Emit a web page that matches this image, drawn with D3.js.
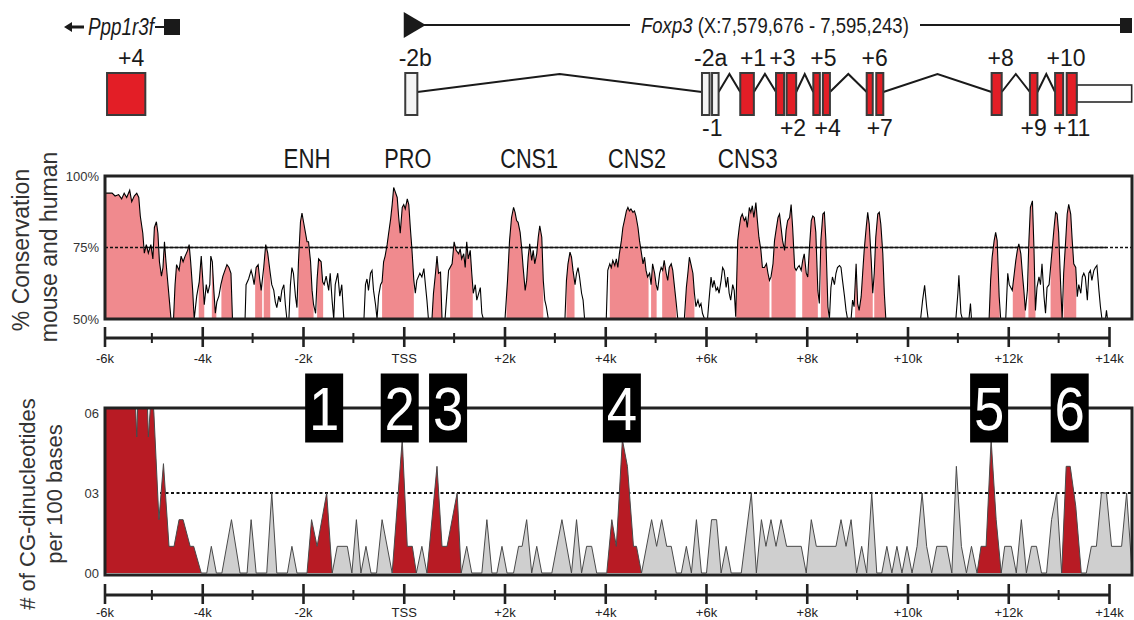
<!DOCTYPE html>
<html>
<head>
<meta charset="utf-8">
<script src="https://cdn.jsdelivr.net/npm/d3@7"></script>
<style>
body { margin: 0; background: #fff; }
svg { display: block; }
text { font-family: "Liberation Sans", Arial, sans-serif; fill: #1a1a1a; }
</style>
</head>
<body>
<svg id="chart" width="1134" height="620"></svg>
<script>
// conservation mouse/human, % identity by position (kb from TSS)
var consPos = [-5.97,-5.92,-5.79,-5.73,-5.66,-5.60,-5.55,-5.50,-5.44,-5.40,-5.35,-5.30,-5.26,-5.23,-5.18,-5.15,-5.11,-5.07,-5.02,-4.98,-4.95,-4.91,-4.88,-4.85,-4.81,-4.78,-4.75,-4.72,-4.68,-4.65,-4.62,-4.57,-4.54,-4.51,-4.46,-4.42,-4.38,-4.34,-4.29,-4.26,-4.23,-4.19,-4.16,-4.11,-4.06,-4.02,-3.99,-3.96,-3.92,-3.89,-3.85,-3.83,-3.80,-3.77,-3.74,-3.71,-3.67,-3.63,-3.59,-3.55,-3.51,-3.47,-3.43,-3.40,-3.15,-3.13,-3.08,-3.03,-3.00,-2.97,-2.93,-2.89,-2.86,-2.83,-2.78,-2.74,-2.70,-2.65,-2.62,-2.58,-2.55,-2.52,-2.48,-2.45,-2.42,-2.38,-2.35,-2.32,-2.28,-2.25,-2.22,-2.19,-2.15,-2.12,-2.09,-2.05,-2.02,-1.99,-1.95,-1.92,-1.89,-1.85,-1.82,-1.79,-1.75,-1.72,-1.69,-1.64,-1.61,-1.58,-1.54,-1.49,-1.46,-1.42,-1.39,-1.36,-1.31,-1.27,-1.23,-1.19,-0.79,-0.76,-0.73,-0.70,-0.66,-0.63,-0.60,-0.56,-0.53,-0.50,-0.46,-0.43,-0.40,-0.37,-0.33,-0.30,-0.26,-0.23,
  -0.20,-0.13,-0.10,-0.07,-0.03,0.00,0.03,0.07,0.10,0.13,0.16,0.20,0.23,0.26,0.32,0.36,0.40,0.43,0.46,0.49,0.56,0.59,0.63,0.66,0.69,0.73,0.76,0.82,0.89,0.96,1.00,1.04,1.09,1.12,1.15,1.19,1.22,1.25,1.28,1.32,1.35,1.38,1.42,1.45,1.52,1.55,1.58,2.01,2.06,2.10,2.14,2.18,2.21,2.24,2.27,2.31,2.34,2.37,2.41,2.44,2.47,2.50,2.54,2.57,2.60,2.64,2.67,2.70,2.74,2.77,2.80,2.83,2.87,3.20,3.23,3.26,3.30,3.33,3.36,3.40,3.43,3.46,3.49,3.53,3.56,3.59,4.02,4.05,4.09,4.12,4.15,4.19,4.22,4.25,4.28,4.32,4.35,4.38,4.42,4.45,4.48,4.51,4.55,4.58,4.61,4.65,4.68,4.71,4.75,4.78,4.81,4.84,4.88,4.91,4.94,4.98,5.01,5.04,5.08,5.11,5.14,5.17,5.21,5.24,5.27,5.31,5.34,5.37,5.41,5.44,5.57,5.61,5.64,5.67,5.70,5.74,5.77,5.80,5.84,5.87,5.90,5.93,5.97,6.03,6.06,6.10,6.13,6.16,6.20,6.23,6.26,6.30,6.33,6.36,6.40,6.43,6.46,6.49,6.53,6.56,6.59,6.63,6.66,6.69,6.72,6.76,6.79,6.82,6.86,6.89,6.92,6.95,6.99,7.02,7.05,7.09,7.12,
  7.16,7.20,7.23,7.26,7.29,7.33,7.36,7.39,7.43,7.46,7.49,7.52,7.56,7.59,7.62,7.66,7.69,7.72,7.76,7.79,7.82,7.85,7.89,7.92,7.95,7.99,8.02,8.05,8.09,8.12,8.15,8.18,8.22,8.25,8.28,8.32,8.35,8.38,8.42,8.45,8.48,8.51,8.55,8.58,8.61,8.65,8.68,8.71,8.75,8.78,8.81,8.88,8.91,8.94,8.98,9.01,9.04,9.08,9.11,9.14,9.18,9.21,9.24,9.28,9.31,9.34,9.37,9.41,9.44,9.47,9.51,9.54,9.57,10.26,10.30,10.34,10.38,10.41,10.96,11.00,11.02,11.06,11.09,11.22,11.25,11.27,11.62,11.65,11.68,11.72,11.75,11.78,11.82,11.85,11.95,11.99,12.02,12.05,12.08,12.12,12.15,12.18,12.21,12.25,12.28,12.31,12.34,12.38,12.41,12.44,12.48,12.51,12.54,12.57,12.61,12.64,12.67,12.71,12.74,12.77,12.81,12.84,12.87,12.91,12.94,12.97,13.00,13.04,13.07,13.10,13.14,13.17,13.20,13.24,13.27,13.30,13.34,13.37,13.40,13.44,13.47,13.50,13.53,13.57,13.60,13.63,13.66,13.70,13.73,13.76,13.80,13.83,13.86,13.93,13.95,13.97];
var consPct = [50,94,94,93,93.5,92,94,92.5,95,91,93,94,92.5,86,80,73,76,73,76,71,82,84,80,70,65,68,77,70,62,56,50,50,62,69,67,72,70,72,74,76,70,60,50,58,63,72,64,55,62,59,62,72,70,60,52,56,58,62,65,67,69,68,66,50,50,62,64,67,65,62,68,69,64,60,68,76,73,66,62,60,56,54,58,56,60,62,55,50,50,62,68,66,58,54,70,84,87,84,80,77,77,70,60,55,52,64,71,70,63,62,65,60,66,56,50,62,66,58,62,50,50,62,64,60,66,67,60,55,50,58,62,63,70,72,76,80,85,90,
  96,92.5,85.5,80,89,90,88.5,92,90,82,75,63.5,59,63.5,66,64.7,67.6,62,56.6,50,50,59,66,72,66,66.4,50,50,67,69.3,77,74,72.8,74.5,71,72.8,68,77,71,74,66,59,62,56.6,61,52,50,50,63.5,77.4,85.5,89,87.3,84.4,83.8,80.3,75,68,60,63.5,71.6,76.3,70.5,74,69.3,72.8,78.6,82.6,78.6,63.5,56.6,54.3,50,50,63.5,69.3,73.4,71.6,67,62,66,68,64.7,59,56.6,50,50,67,69.3,68,70.5,68.7,71,68,72.8,77.4,82,84.4,87.8,89,87.8,88.5,87.3,87.8,86,82,77.4,74,69.3,71.6,67,64.7,66,62,69.3,66,62,60,66,68,67,70.5,66,63.5,68,69.3,67,62,55.4,50,50,61,66,71.6,69.3,66,59,54.3,56.6,54.3,55.4,52,50,50,56.6,64.7,61,63.5,60,61,59,63.5,68,67,61,64.7,59,56.6,62,60,50.8,77.4,82,85.5,86.7,84.4,85.5,82,89,87.3,89.6,85.5,90.7,84.4,78.6,74,68,
  68,69.3,66,63.5,64.7,69.3,77.4,81,85.5,86.7,82,77.4,74,81,84.4,85.5,90,82,68,67,68,68.7,67,70.5,72.8,66,64.7,74,84.4,86,85.5,80.3,60,55.4,77.4,86.7,87.3,77.4,54.3,50,61,64.7,62,66,68,68.7,68,63.5,57.8,53,50,50,56.6,54.3,69.3,55.4,53,57.8,66,74,82,87.3,83.2,70.5,59,66,78.6,86.7,87.3,83.2,72.8,59,50,50,56.6,61.8,54.3,50,50,59,65.3,52,50,50,55.4,50,50,63.5,71.6,77.4,80.3,77.4,57.8,50,50,66,62,61,60,66,70.5,74,76.3,72.8,66,60,53,60,77.4,89,91.3,75,53,61,64.7,62,69.3,57.8,52,61,62,68,74,82,87.3,86.7,80.3,62,50,66,77.4,86.7,90.1,86.7,77.4,69.3,68,57.8,62,59,64.7,66,64.7,56.6,66,67,63.5,67,68,68.7,60,54.3,50,50,53,50];
// conserved (shaded) stretches, kb
var pinkRanges = [[-5.97,-4.62],[-4.58,-4.17],[-4.07,-3.96],[-3.81,-3.72],[-3.62,-3.40],[-2.95,-2.81],[-2.78,-2.65],[-2.09,-1.79],[-1.72,-1.60],[-0.43,0.20],[0.56,0.76],[0.92,1.37],[2.04,2.77],[3.23,3.39],[4.09,4.86],[4.91,5.02],[5.13,5.41],[5.59,5.77],[6.60,7.26],[7.30,7.78],[7.91,8.22],[8.28,8.42],[8.96,9.31],[9.34,9.57],[11.62,11.83],[12.09,12.34],[12.40,12.54],[12.84,13.07],[13.10,13.35]];

// CG dinucleotides per 100 bases
var cgPos = [-6.00,-5.34,-5.30,-5.27,-5.10,-5.07,-5.00,-4.96,-4.86,-4.77,-4.66,-4.56,-4.46,-4.38,-4.24,-4.17,-4.02,-3.91,-3.82,-3.72,-3.61,-3.42,-3.25,-3.11,-3.03,-2.93,-2.72,-2.62,-2.52,-2.31,-2.22,-2.12,-1.92,-1.83,-1.72,-1.53,-1.42,-1.32,-1.12,-1.03,-0.94,-0.85,-0.75,-0.65,-0.54,-0.43,-0.23,-0.03,0.07,0.17,0.25,0.36,0.46,0.66,0.76,0.86,1.06,1.14,1.25,1.35,1.55,1.65,1.75,1.85,1.95,2.05,2.18,2.28,2.35,2.44,2.54,2.64,2.74,2.94,3.14,3.33,3.43,3.53,3.63,3.73,3.83,4.03,4.13,4.22,4.34,4.44,4.56,4.62,4.72,4.92,5.02,5.12,5.22,5.31,5.41,5.51,5.61,5.71,5.81,5.91,6.01,6.11,6.21,6.30,6.40,6.50,6.70,6.90,7.00,7.10,7.19,7.29,7.39,7.49,7.60,7.89,7.99,8.09,8.19,8.58,8.68,8.78,8.88,8.99,9.09,9.19,9.29,9.39,9.49,9.59,9.69,9.79,9.89,9.99,10.09,10.19,10.29,10.38,10.48,10.58,10.78,10.88,10.97,11.07,11.17,11.27,11.38,11.46,11.56,11.66,11.76,11.86,11.93,12.06,12.16,12.26,12.36,12.46,12.56,12.66,12.76,12.86,12.96,13.06,13.15,13.23,13.34,13.45,13.55,13.65,13.75,13.85,13.95,14.05,14.25,14.35,14.46];
var cgVal = [7,7,5.1,7,7,5.1,7,6,2,4.1,1,1,2,2,1,1,0,0,1,0,0,2,0,0,2,0,0,3,0,0,1,0,0,2,1,3,0,1,1,0,2,0,1,0,0,2,0,5,1,1,0,1,0,4,1,1,3,0,1,0,0,2,0,0,1,0,0,1,1,2,0,1,0,0,2,0,2,0,1,1,0,0,2,1,5,4,1,1,0,2,1,2,1,1,0,0,1,0,2,0,0,2,2,0,1,0,0,3,0,2,1,2,1,2,1,1,0,2,1,1,2,1,2,0,1,0,3,0,0,1,0,1,0,1,0,1,3,1,0,1,1,0,4,1,0,1,0,1,1,5,2,0,1,1,0,2,0,1,1,0,0,2,3,0,4,4,2.5,0,0,1,1,3,3,1,1,3,0];
var cgRedRanges = [[-6,-4.02],[-1.92,-1.42],[-0.23,0.25],[0.46,1.14],[4.03,4.72],[11.38,11.86],[13.06,13.45]];

// numbered regions above the CG track
var boxNames = ["1","2","3","4","5","6"];
var boxPos = [-1.58,-0.08,0.88,4.33,11.62,13.22];

// conserved element names
var elementNames = ["ENH","PRO","CNS1","CNS2","CNS3"];
var elementPos = [-1.92,0.08,2.49,4.63,6.83];

// Foxp3 exons (kb)
var exonNames = ["-2b","-2a","-1","+1","+2","+3","+4","+5","+6","+7","+8","+9","+10","+11"];
var exonStart = [0.03,5.92,6.12,6.68,7.39,7.60,8.13,8.32,9.19,9.38,11.67,12.43,12.93,13.16];
var exonEnd   = [0.27,6.07,6.25,6.95,7.55,7.79,8.26,8.46,9.31,9.52,11.87,12.58,13.09,13.36];
var exonCoding = [false,false,false,true,true,true,true,true,true,true,true,true,true,true];
var exonLabelTop = [true,true,false,true,false,true,false,true,true,false,true,false,true,false];
var utrRange = [13.36, 14.45];
var pppExon = ["+4", -5.89, -5.13];

var axisTicks = [-6,-4,-2,0,2,4,6,8,10,12,14];
var consTicks = [50,75,100];
var cgTicks = [0,3,6];

var svg = d3.select("#chart");
var plotLeft = 105, plotRight = 1132;
var x = d3.scaleLinear().domain([-6, 14]).range([101.5, 1109]);
var defs = svg.append("defs");

// condensed text: plain Liberation Sans squeezed to a given width
function squeezed(parent, px, py, width, anchor) {
    var g = parent.append("g");
    var t = g.append("text").attr("x", 0).attr("y", 0).attr("text-anchor", anchor || "start");
    return {
        text: t,
        fit: function() {
            var w = t.node().getComputedTextLength();
            g.attr("transform", "translate(" + px + "," + py + ") scale(" + (width / w) + ",1)");
        }
    };
}

// ---------- gene header ----------
var header = svg.append("g");
// Ppp1r3f (reverse strand)
header.append("path").attr("d", "M64,27 L72,22 L72,25.5 L84,25.5 L84,28.5 L72,28.5 L72,32 Z").attr("fill", "#1a1a1a");
var ppp = squeezed(header, 88, 35, 66);
ppp.text.style("font-size", "23px").style("font-style", "italic").text("Ppp1r3f");
ppp.fit();
header.append("line").attr("x1", 155).attr("x2", 164).attr("y1", 27).attr("y2", 27).attr("stroke", "#1a1a1a").attr("stroke-width", 2);
header.append("rect").attr("x", 164).attr("y", 19).attr("width", 16).attr("height", 16).attr("fill", "#1a1a1a");

// Foxp3
var fx0 = x(0);
header.append("path").attr("d", "M" + fx0 + ",12 L" + (fx0 + 22) + ",25 L" + fx0 + ",38 Z").attr("fill", "#1a1a1a");
var fox = squeezed(header, 641, 33, 268);
fox.text.style("font-size", "23px");
fox.text.append("tspan").style("font-style", "italic").text("Foxp3");
fox.text.append("tspan").text(" (X:7,579,676 - 7,595,243)");
fox.fit();
header.append("line").attr("x1", fx0 + 20).attr("x2", 630).attr("y1", 25).attr("y2", 25).attr("stroke", "#1a1a1a").attr("stroke-width", 2);
header.append("line").attr("x1", 920).attr("x2", 1122).attr("y1", 25).attr("y2", 25).attr("stroke", "#1a1a1a").attr("stroke-width", 2);
header.append("rect").attr("x", 1120).attr("y", 18).attr("width", 12).attr("height", 15).attr("fill", "#1a1a1a");

// ---------- exon structure ----------
var exons = exonNames.map(function(n, i) {
    return { name: n, s: exonStart[i], e: exonEnd[i], coding: exonCoding[i], top: exonLabelTop[i] };
});
var exTop = 73, exBot = 115, intronY = 92, intronPeak = 74;
var gx = svg.append("g");

// introns as chevrons between exons that are not touching
for (var i = 1; i < exons.length; i++) {
    var a = exons[i - 1], b = exons[i];
    if (b.s - a.e < 0.15) continue;
    var x1 = x(a.e), x2 = x(b.s);
    gx.append("path").attr("d", "M" + x1 + "," + intronY + " L" + ((x1 + x2) / 2) + "," + intronPeak + " L" + x2 + "," + intronY)
        .attr("fill", "none").attr("stroke", "#1a1a1a").attr("stroke-width", 2);
}
gx.append("rect").attr("x", x(utrRange[0])).attr("y", 85).attr("width", x(utrRange[1]) - x(utrRange[0])).attr("height", 17)
    .attr("fill", "#fff").attr("stroke", "#2a2a2a").attr("stroke-width", 1.6);
gx.selectAll("rect.exon").data(exons).enter().append("rect").attr("class", "exon")
    .attr("x", function(d) { return x(d.s); })
    .attr("width", function(d) { return x(d.e) - x(d.s); })
    .attr("y", exTop).attr("height", exBot - exTop)
    .attr("fill", function(d) { return d.coding ? "#e31e26" : "#f4f4f4"; })
    .attr("stroke", "#3a3a3a").attr("stroke-width", 2);

// label nudges so the numbers sit like in the figure
var nudge = { "-2b": 4, "-2a": 5, "-1": -3, "+1": 6, "+2": 13, "+3": -9, "+4": 11, "+5": -3, "+6": 5, "+7": 0, "+8": 4, "+9": 0, "+10": 7, "+11": 0 };
gx.selectAll("text.exlab").data(exons).enter().append("text").attr("class", "exlab")
    .attr("x", function(d) { return (x(d.s) + x(d.e)) / 2 + nudge[d.name]; })
    .attr("y", function(d) { return d.top ? 66 : 136; })
    .attr("text-anchor", "middle").style("font-size", "23px")
    .text(function(d) { return d.name; });

// Ppp1r3f exon +4
gx.append("rect").attr("x", x(pppExon[1])).attr("width", x(pppExon[2]) - x(pppExon[1]))
    .attr("y", exTop).attr("height", exBot - exTop)
    .attr("fill", "#e31e26").attr("stroke", "#3a3a3a").attr("stroke-width", 2);
gx.append("text").attr("x", (x(pppExon[1]) + x(pppExon[2])) / 2 + 5).attr("y", 66)
    .attr("text-anchor", "middle").style("font-size", "23px").text(pppExon[0]);

// element names
var elemWidth = { "ENH": 47, "PRO": 47, "CNS1": 58, "CNS2": 58, "CNS3": 60 };
elementNames.forEach(function(n, i) {
    var el = squeezed(svg, x(elementPos[i]), 168, elemWidth[n], "middle");
    el.text.style("font-size", "28px").text(n);
    el.fit();
});

// ---------- axes ----------
function fmtTick(k) { return k === 0 ? "TSS" : (k > 0 ? "+" : "") + k + "k"; }
function drawAxis(yPos, labelY) {
    var g = svg.append("g").attr("transform", "translate(0," + yPos + ")")
        .call(d3.axisBottom(x).tickValues(axisTicks).tickSize(0).tickFormat(fmtTick));
    g.select(".domain").remove();
    g.insert("line", ":first-child").attr("x1", plotLeft).attr("x2", x(14)).attr("stroke", "#222").attr("stroke-width", 3);
    g.selectAll(".tick").filter(function(d) { return d === -6; }).attr("transform", "translate(" + plotLeft + ",0)");
    g.selectAll(".tick line").attr("y1", -11).attr("y2", 9).attr("stroke", "#222").attr("stroke-width", 2.6);
    g.selectAll(".tick text").attr("y", labelY).attr("dy", 0).style("font-size", "13px").style("fill", "#222")
        .style("font-family", "Liberation Sans, Arial, sans-serif");
    g.selectAll("line.minor").data(d3.range(-5, 14, 2)).enter().append("line").attr("class", "minor")
        .attr("x1", function(d) { return x(d); }).attr("x2", function(d) { return x(d); })
        .attr("y1", -5).attr("y2", 5).attr("stroke", "#222").attr("stroke-width", 2);
}

// ---------- conservation plot ----------
var consTop = 176, consBottom = 319;
var yC = d3.scaleLinear().domain([50, 100]).range([consBottom, consTop]);
var cons = consPos.map(function(p, i) { return { kb: p, v: consPct[i] }; });

defs.append("clipPath").attr("id", "consClip").append("rect")
    .attr("x", plotLeft).attr("y", consTop).attr("width", plotRight - plotLeft).attr("height", consBottom - consTop);
defs.append("clipPath").attr("id", "pinkClip").selectAll("rect").data(pinkRanges).enter().append("rect")
    .attr("x", function(d) { return x(d[0]); }).attr("width", function(d) { return x(d[1]) - x(d[0]); })
    .attr("y", consTop).attr("height", consBottom - consTop);

var cg1 = svg.append("g").attr("clip-path", "url(#consClip)");
cg1.append("line").attr("x1", plotLeft).attr("x2", x(13.95)).attr("y1", yC(75)).attr("y2", yC(75))
    .attr("stroke", "#222").attr("stroke-width", 1.6);
cg1.append("path").datum(cons).attr("clip-path", "url(#pinkClip)")
    .attr("d", d3.area().x(function(d) { return x(d.kb); }).y0(yC(50)).y1(function(d) { return yC(d.v); }))
    .attr("fill", "#f08a8e");
cg1.append("line").attr("x1", plotLeft).attr("x2", plotRight).attr("y1", yC(75)).attr("y2", yC(75))
    .attr("stroke", "#111").attr("stroke-width", 1.6).attr("stroke-dasharray", "3,2");
cg1.append("path").datum(cons)
    .attr("d", d3.line().x(function(d) { return x(d.kb); }).y(function(d) { return yC(d.v); }))
    .attr("fill", "none").attr("stroke", "#000").attr("stroke-width", 1.1);
svg.append("rect").attr("x", plotLeft).attr("y", consTop).attr("width", plotRight - plotLeft).attr("height", consBottom - consTop)
    .attr("fill", "none").attr("stroke", "#222").attr("stroke-width", 3);
svg.selectAll("text.ctick").data(consTicks).enter().append("text").attr("class", "ctick")
    .attr("x", 99).attr("y", function(d) { return yC(d); }).attr("dy", "0.35em")
    .attr("text-anchor", "end").style("font-size", "13px").style("fill", "#333")
    .text(function(d) { return d + "%"; });
drawAxis(338, 25);

svg.append("text").attr("transform", "translate(29,250) rotate(-90)").attr("text-anchor", "middle")
    .style("font-size", "23px").style("fill", "#333").text("% Conservation");
svg.append("text").attr("transform", "translate(57,247) rotate(-90)").attr("text-anchor", "middle")
    .style("font-size", "23px").style("fill", "#333").text("mouse and human");

// ---------- CG plot ----------
var gTop = 408, gBottom = 575;
var yG = d3.scaleLinear().domain([0, 6]).range([573, 413]);
var cgData = cgPos.map(function(p, i) { return { kb: p, v: cgVal[i] }; });

defs.append("clipPath").attr("id", "cgClip").append("rect")
    .attr("x", plotLeft).attr("y", gTop).attr("width", plotRight - plotLeft).attr("height", gBottom - gTop);
defs.append("clipPath").attr("id", "redClip").selectAll("rect").data(cgRedRanges).enter().append("rect")
    .attr("x", function(d) { return x(d[0]); }).attr("width", function(d) { return x(d[1]) - x(d[0]); })
    .attr("y", gTop - 10).attr("height", gBottom - gTop + 20);

var cg2 = svg.append("g").attr("clip-path", "url(#cgClip)");
cg2.append("line").attr("x1", plotLeft).attr("x2", plotRight).attr("y1", yG(3)).attr("y2", yG(3))
    .attr("stroke", "#111").attr("stroke-width", 1.8).attr("stroke-dasharray", "3,2.5");
var cgArea = d3.area().x(function(d) { return x(d.kb); }).y0(yG(0)).y1(function(d) { return yG(d.v); });
cg2.append("path").datum(cgData).attr("d", cgArea).attr("fill", "#cfcfcf");
cg2.append("path").datum(cgData).attr("d", cgArea).attr("fill", "#b81b24").attr("clip-path", "url(#redClip)");
cg2.append("path").datum(cgData)
    .attr("d", d3.line().x(function(d) { return x(d.kb); }).y(function(d) { return yG(d.v); }))
    .attr("fill", "none").attr("stroke", "#4a4a4a").attr("stroke-width", 1);
svg.append("rect").attr("x", plotLeft).attr("y", gTop).attr("width", plotRight - plotLeft).attr("height", gBottom - gTop)
    .attr("fill", "none").attr("stroke", "#222").attr("stroke-width", 3);
svg.selectAll("text.gtick").data(cgTicks).enter().append("text").attr("class", "gtick")
    .attr("x", 99).attr("y", function(d) { return yG(d); }).attr("dy", "0.35em")
    .attr("text-anchor", "end").style("font-size", "13px").style("fill", "#333")
    .text(function(d) { return "0" + d; });
drawAxis(595, 22);

// numbered boxes
var bw = 38, bh = 69;
var boxes = svg.selectAll("g.nbox").data(boxNames).enter().append("g").attr("class", "nbox")
    .attr("transform", function(d, i) { return "translate(" + x(boxPos[i]) + "," + gTop + ")"; });
boxes.append("rect").attr("x", -bw / 2).attr("y", -bh / 2).attr("width", bw).attr("height", bh).attr("fill", "#000");
boxes.append("text").attr("y", 22).attr("text-anchor", "middle").attr("transform", "scale(0.88,1)")
    .style("font-size", "62px").style("fill", "#fff")
    .text(function(d) { return d; });

svg.append("text").attr("transform", "translate(35,504) rotate(-90)").attr("text-anchor", "middle")
    .style("font-size", "22px").style("fill", "#333").text("# of CG-dinucleotides");
svg.append("text").attr("transform", "translate(62,494) rotate(-90)").attr("text-anchor", "middle")
    .style("font-size", "22px").style("fill", "#333").text("per 100 bases");
</script>
</body>
</html>
